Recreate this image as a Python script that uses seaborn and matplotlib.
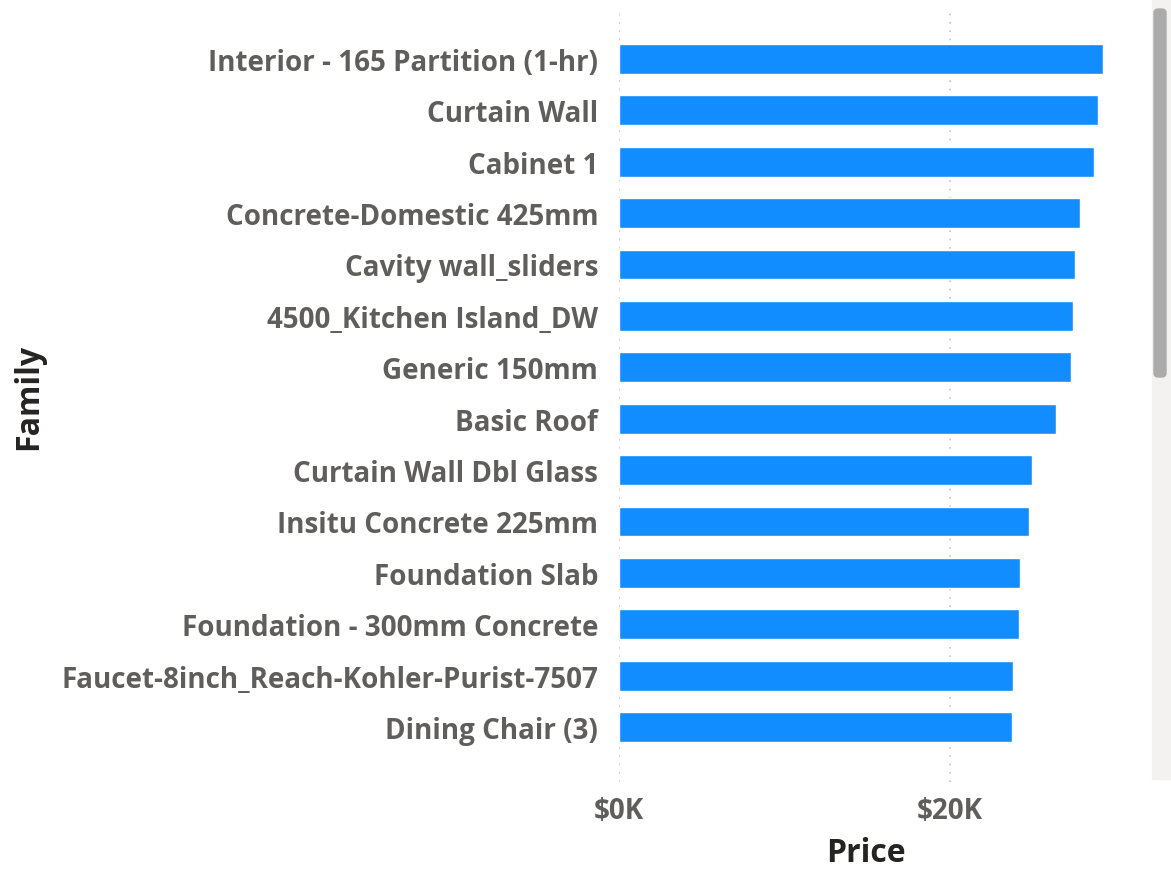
import matplotlib
matplotlib.use('Agg')
import matplotlib.pyplot as plt
import matplotlib.patches as mpatches
import pandas as pd
import seaborn as sns

# Values (price in thousands of dollars)
families = [
    'Interior - 165 Partition (1-hr)',
    'Curtain Wall',
    'Cabinet 1',
    'Concrete-Domestic 425mm',
    'Cavity wall_sliders',
    '4500_Kitchen Island_DW',
    'Generic 150mm',
    'Basic Roof',
    'Curtain Wall Dbl Glass',
    'Insitu Concrete 225mm',
    'Foundation Slab',
    'Foundation - 300mm Concrete',
    'Faucet-8inch_Reach-Kohler-Purist-7507',
    'Dining Chair (3)',
]
price_k = [29.24, 28.94, 28.70, 27.86, 27.55, 27.43, 27.31,
           26.40, 24.95, 24.77, 24.23, 24.17, 23.81, 23.75]
x_ticks = [0, 20]
x_tick_labels = ['$0K', '$20K']

bar_color = '#118DFF'
label_color = '#605E5C'
title_color = '#252423'


def draw_chart():
    '''Power BI style horizontal bar chart'''
    df = pd.DataFrame({'Family': families, 'Price': price_k})

    sns.set_style('white')
    plt.rcParams['font.family'] = ['Open Sans', 'DejaVu Sans']

    fig = plt.figure(figsize=(11.71, 8.70), dpi=100)
    ax = fig.add_axes([619 / 1171, 1 - 783 / 870, (1113 - 619) / 1171, (783 - 10) / 870])

    sns.barplot(data=df, x='Price', y='Family', color=bar_color,
                width=0.58, saturation=1, ax=ax, zorder=3)

    ax.set_xlim(0, 29.85)
    ax.set_ylim(14.07, -0.97)
    ax.set_xticks(x_ticks)
    ax.set_xticklabels(x_tick_labels)
    ax.xaxis.grid(True, linestyle=(0, (1, 4)), color='#C8C6C4', linewidth=1.2)
    ax.yaxis.grid(False)
    for s in ax.spines.values():
        s.set_visible(False)

    ax.tick_params(axis='both', length=0, labelcolor=label_color, labelsize=20)
    ax.tick_params(axis='y', pad=15)
    ax.tick_params(axis='x', labelsize=20, pad=10)
    for lbl in ax.get_xticklabels() + ax.get_yticklabels():
        lbl.set_fontweight('bold')

    ax.set_xlabel('Price', fontsize=23, color=title_color, fontweight='bold', labelpad=8)
    ax.set_ylabel('Family', fontsize=23, color=title_color, fontweight='bold')
    ax.yaxis.set_label_coords(-574 / 494, 0.5)

    # scrollbar on the right side
    fig.patches.append(mpatches.Rectangle((1152 / 1171, 90 / 870), 19 / 1171, 780 / 870,
                                          transform=fig.transFigure, color='#F3F2F1', zorder=0))
    fig.patches.append(mpatches.FancyBboxPatch((1154 / 1171, 1 - 378 / 870), 12 / 1171, 368 / 870,
                                               boxstyle='round,pad=0,rounding_size=0.004',
                                               transform=fig.transFigure, color='#ABABAB', zorder=1))

    fig.savefig('out.png', dpi=100)


if __name__ == '__main__':
    draw_chart()
